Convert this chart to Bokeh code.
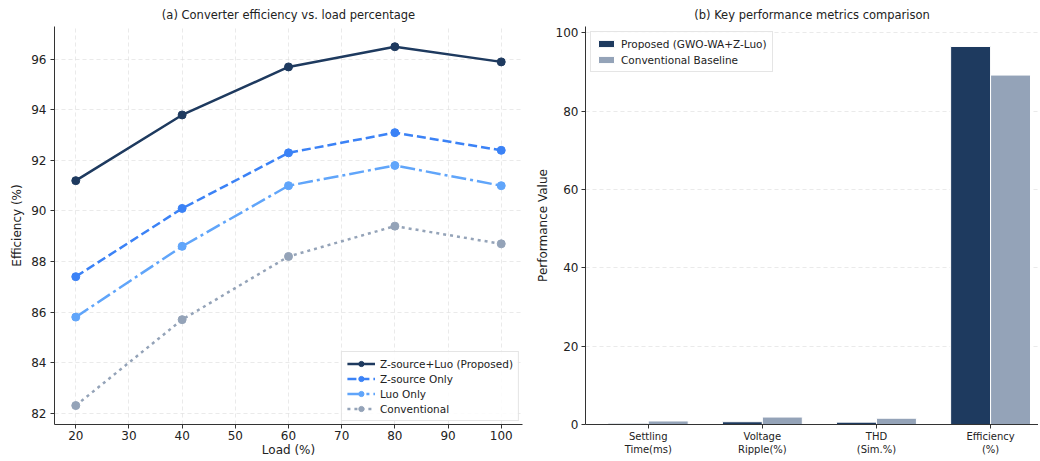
from bokeh.plotting import figure
from bokeh.layouts import row
from bokeh.models import Range1d, FixedTicker, Legend
from bokeh.embed import file_html
from bokeh.resources import INLINE

# ---- data ----
load = [20, 40, 60, 80, 100]
eff_proposed = [91.2, 93.8, 95.7, 96.5, 95.9]
eff_zsource = [87.4, 90.1, 92.3, 93.1, 92.4]
eff_luo = [85.8, 88.6, 91.0, 91.8, 91.0]
eff_conv = [82.3, 85.7, 88.2, 89.4, 88.7]

metrics = ["Settling\nTime(ms)", "Voltage\nRipple(%)", "THD\n(Sim.%)", "Efficiency\n(%)"]
metric_proposed = [0.3, 0.7, 0.6, 96.5]
metric_conv = [0.9, 1.9, 1.6, 89.2]

FONT = "DejaVu Sans"
TXT = "#222222"


def style(p):
    p.outline_line_color = None
    p.title.text_font = FONT
    p.title.text_font_style = "normal"
    p.title.text_font_size = "11.5px"
    p.title.text_color = TXT
    p.title.align = "center"
    for ax in (p.xaxis[0], p.yaxis[0]):
        ax.axis_line_color = "#333333"
        ax.major_tick_line_color = "#333333"
        ax.major_tick_out = 4
        ax.major_tick_in = 0
        ax.minor_tick_line_color = None
        ax.major_label_text_font = FONT
        ax.major_label_text_font_size = "12px"
        ax.major_label_text_color = TXT
        ax.axis_label_text_font = FONT
        ax.axis_label_text_font_style = "normal"
        ax.axis_label_text_font_size = "12px"
        ax.axis_label_text_color = TXT
        ax.major_label_standoff = 4
        ax.axis_label_standoff = 4
    p.xaxis[0].major_label_standoff = 2
    p.xaxis[0].axis_label_standoff = 0


H = 459

# ---- left: efficiency vs load ----
p1 = figure(width=532, height=H, output_backend="svg", toolbar_location=None,
            title="(a) Converter efficiency vs. load percentage",
            x_range=Range1d(16, 104), y_range=Range1d(81.55, 97.3),
            min_border_left=54, min_border_right=10, min_border_top=8, min_border_bottom=0)
style(p1)
p1.xaxis.axis_label = "Load (%)"
p1.yaxis.axis_label = "Efficiency (%)"
p1.xaxis.ticker = FixedTicker(ticks=[20, 30, 40, 50, 60, 70, 80, 90, 100])
p1.yaxis.ticker = FixedTicker(ticks=[82, 84, 86, 88, 90, 92, 94, 96])
for g in (p1.xgrid[0], p1.ygrid[0]):
    g.grid_line_color = "#d9d9d9"
    g.grid_line_dash = "4 3"
    g.grid_line_alpha = 0.7
    g.grid_line_width = 0.8

series = [
    ("Z-source+Luo (Proposed)", eff_proposed, "#1e3a5f", "solid", 1.0),
    ("Z-source Only", eff_zsource, "#3b82f6", "9 4", 1.0),
    ("Luo Only", eff_luo, "#60a5fa", "15 4 3 4", 1.0),
    ("Conventional", eff_conv, "#94a3b8", "3 4", 1.0),
]
items = []
for name, ys, col, dash, a in series:
    r1 = p1.line(load, ys, line_color=col, line_width=2.5, line_dash=dash, line_alpha=a)
    r2 = p1.scatter(load, ys, size=8, marker="circle", fill_color=col, line_color=col, alpha=a)
    items.append((name, [r1, r2]))
leg1 = Legend(items=items, location="bottom_right")
leg1.label_text_font = FONT
leg1.label_text_font_size = "10.5px"
leg1.label_text_color = TXT
leg1.label_height = 13
leg1.glyph_height = 13
leg1.glyph_width = 28
leg1.spacing = 2
leg1.padding = 5
leg1.margin = 3
leg1.border_line_color = "#cccccc"
leg1.border_line_width = 1
leg1.background_fill_alpha = 0.85
p1.add_layout(leg1)

# ---- right: bar comparison ----
xpos = list(range(len(metrics)))
w = 0.35
p2 = figure(width=506, height=H, output_backend="svg", toolbar_location=None,
            title="(b) Key performance metrics comparison",
            x_range=Range1d(-0.55, 3.42), y_range=Range1d(0, 101.6),
            min_border_left=45, min_border_right=0, min_border_top=8, min_border_bottom=0)
style(p2)
p2.yaxis.axis_label = "Performance Value"
p2.yaxis.major_label_standoff = 3
p2.yaxis.axis_label_standoff = 3
p2.yaxis.ticker = FixedTicker(ticks=[0, 20, 40, 60, 80, 100])
p2.xaxis.ticker = FixedTicker(ticks=xpos)
p2.xaxis.major_label_overrides = {i: m for i, m in zip(xpos, metrics)}
p2.xaxis.major_label_text_font_size = "10px"
p2.xgrid.grid_line_color = None
p2.ygrid.grid_line_color = "#d9d9d9"
p2.ygrid.grid_line_dash = "4 3"
p2.ygrid.grid_line_alpha = 0.7
p2.ygrid.grid_line_width = 0.8

x_prop = [x - w / 2 for x in xpos]
x_conv = [x + w / 2 for x in xpos]
b1 = p2.vbar(x=x_prop, top=metric_proposed, width=w, fill_color="#1e3a5f", line_color="white", line_width=1)
b2 = p2.vbar(x=x_conv, top=metric_conv, width=w, fill_color="#94a3b8", line_color="white", line_width=1)
leg2 = Legend(items=[("Proposed (GWO-WA+Z-Luo)", [b1]), ("Conventional Baseline", [b2])], location="top_left")
leg2.label_text_font = FONT
leg2.label_text_font_size = "10.5px"
leg2.label_text_color = TXT
leg2.label_height = 13
leg2.glyph_height = 9
leg2.glyph_width = 20
leg2.spacing = 3
leg2.padding = 5
leg2.margin = 5
leg2.border_line_color = "#cccccc"
leg2.background_fill_alpha = 0.85
p2.add_layout(leg2)

layout = row(p1, p2)
open("out.html", "w").write(file_html(layout, INLINE))
